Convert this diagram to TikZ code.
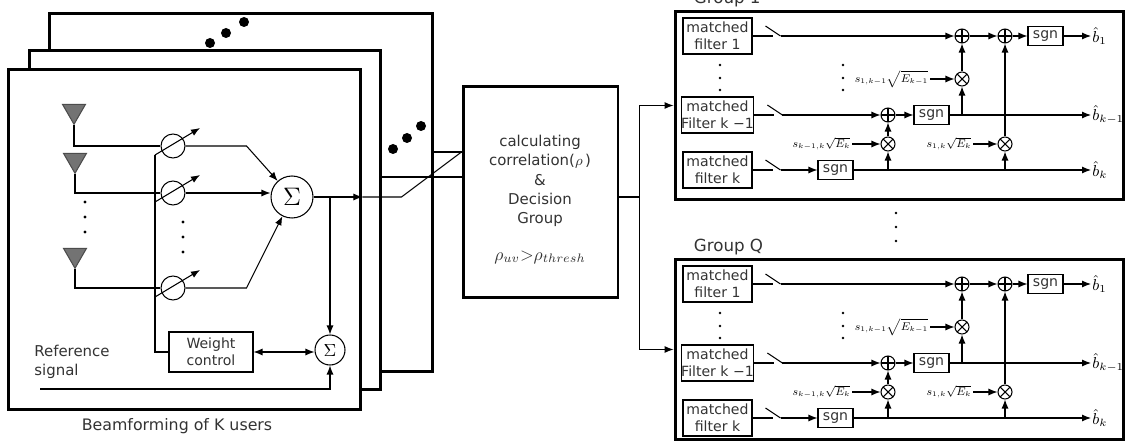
\documentclass[tikz,border=0pt]{standalone}
\usepackage{fontspec}
\setsansfont{DejaVu Sans}
\usetikzlibrary{shapes,arrows,arrows.meta,positioning,calc}
\tikzstyle{line} = [draw, -{Latex[length=1.8mm, width=1.4mm]}]
\tikzstyle{dline} = [draw, {Latex[length=1.8mm, width=1.4mm]}-{Latex[length=1.8mm, width=1.4mm]}]
\tikzstyle{framebox} = [rectangle, draw, line width=1.7pt, fill=white]
\tikzstyle{block} = [rectangle, draw, fill=white, text=black!80,
  font=\sffamily\fontsize{8}{9.5}\selectfont, align=center, inner sep=0pt]
\tikzstyle{mfbox} = [block, minimum width=1.38cm, minimum height=0.72cm]
\tikzstyle{sgnbox} = [block, minimum width=0.7cm, minimum height=0.38cm]
\tikzstyle{weight} = [circle, draw, fill=white, minimum size=0.48cm, inner sep=0pt]
\tikzstyle{summer} = [circle, draw, fill=white, inner sep=0pt]
\tikzstyle{adder} = [circle, draw, fill=white, minimum size=0.28cm, inner sep=0pt,
  path picture={\draw (path picture bounding box.north) -- (path picture bounding box.south)
    (path picture bounding box.west) -- (path picture bounding box.east);}]
\tikzstyle{mixer} = [circle, draw, fill=white, minimum size=0.28cm, inner sep=0pt,
  path picture={\draw (path picture bounding box.north west) -- (path picture bounding box.south east)
    (path picture bounding box.south west) -- (path picture bounding box.north east);}]
\tikzstyle{antenna} = [regular polygon, regular polygon sides=3, shape border rotate=180,
  draw=black!70, fill=black!55, minimum size=0.53cm, inner sep=0pt]
\tikzstyle{lbl} = [text=black!80, font=\sffamily\fontsize{8.5}{11}\selectfont, align=center]
\tikzstyle{coef} = [font=\footnotesize, scale=0.8, transform shape, inner sep=1pt]
\tikzstyle{bhat} = [anchor=west, font=\small, inner sep=0.5pt]
\newcommand{\ssub}[1]{_{\scriptscriptstyle #1}}

\begin{document}
\begin{tikzpicture}[x=0.02cm, y=-0.02cm, line width=0.6pt]
  \useasboundingbox (0,0) rectangle (1132,442);

  % stacked beamformers
  \node [framebox, minimum width=7.68cm, minimum height=7.18cm] (f3) at (241,192.5) {};
  \node [framebox, minimum width=7.04cm, minimum height=6.8cm] (f2) at (205,220) {};
  \node [framebox, minimum width=7.06cm, minimum height=6.82cm] (f1) at (184.5,239.5) {};
  \foreach \p in {(210,43),(226,33),(244,22),(393,149),(407,138),(421,126)}
    \fill \p circle (5);

  \node [antenna] (ant1) at (74,111) {};
  \node [antenna] (ant2) at (75,160) {};
  \node [antenna] (ant3) at (75,255) {};
  \node [weight] (w1) at (173,146) {};
  \node [weight] (w2) at (173,193) {};
  \node [weight] (w3) at (173,288) {};
  \node [summer, minimum size=0.84cm] (S) at (292,197) {\Large$\Sigma$};
  \node [summer, minimum size=0.6cm] (s2) at (330,350) {$\Sigma$};
  \node [block, minimum width=1.68cm, minimum height=0.8cm] (wc) at (211,352) {Weight\\control};
  \node [lbl, align=left, anchor=west] (reftxt) at (28,362) {Reference\\signal};
  \node [lbl, font=\sffamily\fontsize{9}{11}\selectfont] (bfk) at (177,426) {Beamforming of K users};
  \coordinate (ref) at (40,389);
  \coordinate (ctl) at ($(w1)+(-18,9)$);

  \foreach \p in {(85,202),(85,217),(85,232),(183,222),(183,237),(183,252)}
    \fill \p circle (1.6);

  \draw (ant1.corner 1) |- (w1.west);
  \draw (ant2.corner 1) |- (w2.west);
  \draw (ant3.corner 1) |- (w3.west);
  \foreach \w in {w1,w2,w3}
    \path [line] ($(\w)+(-18,9)$) -- ($(\w)+(27,-18)$);
  \path [line] (w1.east) -- ++(61,0) -- (S);
  \path [line] (w2.east) -- (w2.east -| S.west);
  \path [line] (w3.east) -- ++(61,0) -- (S);
  \draw (ctl) |- (wc.west);
  \path [line] (S.east) -- (S.east -| f1.east);
  \path [line] (s2 |- S.east) -- (s2.north);
  \path [dline] (wc.east) -- (wc.east -| s2.west);
  \path [line] (ref) -| (s2.south);

  % correlation block
  \node [framebox, minimum width=3.1cm, minimum height=4.24cm] (corr) at (540.5,192) {};
  \node [lbl] (corrtxt) at (540,181) {calculating\\correlation($\rho$\,)\\\&\\Decision\\Group};
  \node [text=black!80] (thr) at (540,257) {$\rho_{uv}{>}\rho_{thresh}$};
  \coordinate (k2) at ($(corr.west)+(0,-15)$);
  \coordinate (k3) at ($(corr.west)+(0,-40)$);
  \draw (k2 -| f2.east) -- (k2);
  \draw (k3 -| f3.east) -- (k3);
  \draw (S.east -| f1.east) -- ++(39,0) -- (k3);
  \coordinate (fk) at ($(corr.east)+(20,5)$);
  \draw (corr.east |- fk) -- (fk);

  % detector groups
  \foreach \g/\dy/\cy/\gh in {1/0/105.5/3.78cm, Q/248/101.5/3.62cm}{
  \begin{scope}[shift={(0,\dy)}]
    \node [framebox, minimum width=8.98cm, minimum height=\gh] (G\g) at (899.5,\cy) {};
    \node [lbl, anchor=south west, font=\sffamily\fontsize{9.5}{11}\selectfont, inner sep=1pt]
      (gt\g) at ($(G\g.north west)+(18,0)$) {Group \g};
    \node [mfbox] (mfa\g) at (717.5,36) {matched\\filter 1};
    \node [mfbox] (mfb\g) at (717.5,115) {matched\\Filter k −1};
    \node [mfbox] (mfc\g) at (717.5,170) {matched\\filter k};
    \foreach \r in {a,b,c}{
      \draw (mf\r\g.east) -- ++(20,0);
      \draw ($(mf\r\g.east)+(13,-10)$) -- ++(15,10) coordinate (sw\r\g);
    }
    \node [adder] (pa\g) at (962,36) {};
    \node [adder] (pb\g) at (1005,36) {};
    \node [adder] (pc\g) at (888,115) {};
    \node [mixer] (ma\g) at (962,79) {};
    \node [mixer] (mb\g) at (888,144) {};
    \node [mixer] (mc\g) at (1005,144) {};
    \node [sgnbox] (sga\g) at (1045.5,36) {sgn};
    \node [sgnbox] (sgb\g) at (931.5,115) {sgn};
    \node [sgnbox] (sgc\g) at (835.5,170) {sgn};
    \node [bhat] (ba\g) at (1091,36) {$\hat{b}_1$};
    \node [bhat] (bb\g) at (1091,115) {$\hat{b}_{k-1}$};
    \node [bhat] (bc\g) at (1091,170) {$\hat{b}_k$};
    \node [coef, anchor=east] (ca\g) at (930,79) {$s\ssub{1,k-1}\sqrt{E\ssub{k-1}}$};
    \node [coef, anchor=east] (cb\g) at (852,144) {$s\ssub{k-1,k}\sqrt{E\ssub{k}}$};
    \node [coef, anchor=east] (cc\g) at (973,144) {$s\ssub{1,k}\sqrt{E\ssub{k}}$};
    \foreach \p in {(720,65),(720,78),(720,90),(843,65),(843,78),(843,90)}
      \fill \p circle (1.3);

    \path [line] (swa\g) -- (pa\g);
    \path [line] (pa\g) -- (pb\g);
    \path [line] (pb\g) -- (sga\g);
    \path [line] (sga\g) -- (ba\g);
    \path [line] (ca\g) -- (ma\g);
    \path [line] (ma\g) -- (pa\g);
    \path [line] (ma\g |- sgb\g) -- (ma\g);
    \path [line] (swb\g) -- (pc\g);
    \path [line] (pc\g) -- (sgb\g);
    \path [line] (sgb\g) -- (bb\g);
    \path [line] (cb\g) -- (mb\g);
    \path [line] (mb\g) -- (pc\g);
    \path [line] (mb\g |- sgc\g) -- (mb\g);
    \path [line] (swc\g) -- (sgc\g);
    \path [line] (sgc\g) -- (bc\g);
    \path [line] (cc\g) -- (mc\g);
    \path [line] (mc\g) -- (pb\g);
    \path [line] (mc\g |- sgc\g) -- (mc\g);
  \end{scope}}
  \foreach \p in {(896,213),(896,227),(896,241)}
    \fill \p circle (1.3);

  \path [line] (fk) |- (G1.west);
  \path [line] (fk) |- (GQ.west);

\end{tikzpicture}
\end{document}
